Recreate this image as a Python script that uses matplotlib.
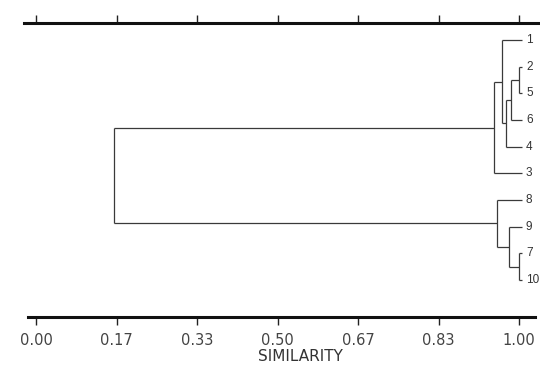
import matplotlib
matplotlib.use("Agg")
import matplotlib.pyplot as plt
import numpy as np

# ---- data ----
leaf_labels = ["1", "2", "5", "6", "4", "3", "8", "9", "7", "10"]
# merges: (child_a, child_b, similarity); new node names are "N<index>"
merge_a = ["2", "N0", "N1", "1", "N3", "7", "9", "8", "N4"]
merge_b = ["5", "6", "4", "N2", "3", "10", "N5", "N6", "N7"]
merge_sim = [1.00, 0.983, 0.973, 0.965, 0.948, 1.00, 0.979, 0.954, 0.162]
tick_values = [0.0, 1/6, 2/6, 3/6, 4/6, 5/6, 1.0]
tick_labels = ["0.00", "0.17", "0.33", "0.50", "0.67", "0.83", "1.00"]
x_label = "SIMILARITY"

# ---- figure ----
W, H = 540, 368
fig = plt.figure(figsize=(W / 100, H / 100), dpi=100)
ax_top_px, ax_bot_px = 23, 317
ax = fig.add_axes([0, (H - ax_bot_px) / H, 1, (ax_bot_px - ax_top_px) / H])
px_per_unit = 483.0
x0_px = 36.0
ax.set_xlim(-x0_px / px_per_unit, (W - x0_px) / px_per_unit)
ax.set_ylim(ax_bot_px, ax_top_px)

leaf_x = 1.006
n = len(leaf_labels)
leaf_y = np.linspace(40, 280, n)
pos = {lab: (leaf_x, y) for lab, y in zip(leaf_labels, leaf_y)}

line_kw = dict(color="#3a3a3a", lw=0.9, solid_capstyle="butt")
for i, (a, b, s) in enumerate(zip(merge_a, merge_b, merge_sim)):
    xa, ya = pos[a]
    xb, yb = pos[b]
    ax.plot([xa, s], [ya, ya], **line_kw)
    ax.plot([xb, s], [yb, yb], **line_kw)
    ax.plot([s, s], [ya, yb], **line_kw)
    pos["N%d" % i] = (s, (ya + yb) / 2)

label_x = (526 - x0_px) / px_per_unit
for lab, y in zip(leaf_labels, leaf_y):
    ax.text(label_x, y, lab, ha="left", va="center", fontsize=8.5,
            family="Liberation Sans", color="#333333", clip_on=False)

# spines as the two axis lines
for side in ["left", "right"]:
    ax.spines[side].set_visible(False)
ax.spines["top"].set_linewidth(2.2)
ax.spines["bottom"].set_linewidth(2.2)
ax.spines["top"].set_color("#111111")
ax.spines["bottom"].set_color("#111111")
ax.spines["top"].set_bounds(-12 / px_per_unit, (540 - x0_px) / px_per_unit)
ax.spines["bottom"].set_bounds(-8 / px_per_unit, (535 - x0_px) / px_per_unit)

ax.set_yticks([])
ax.set_xticks(tick_values)
ax.set_xticklabels(tick_labels)
ax.tick_params(axis="x", which="both", top=True, bottom=True, direction="out",
               length=4, width=1.0, color="#222222", labelsize=10.5,
               labelcolor="#444444", pad=6)
ax.tick_params(axis="x", which="both", top=True, length=5.5)
ax.set_xlabel(x_label, fontsize=11, color="#333333", labelpad=1)
ax.xaxis.label.set_position((300 / W, 0))

fig.savefig("out.png", dpi=100)
